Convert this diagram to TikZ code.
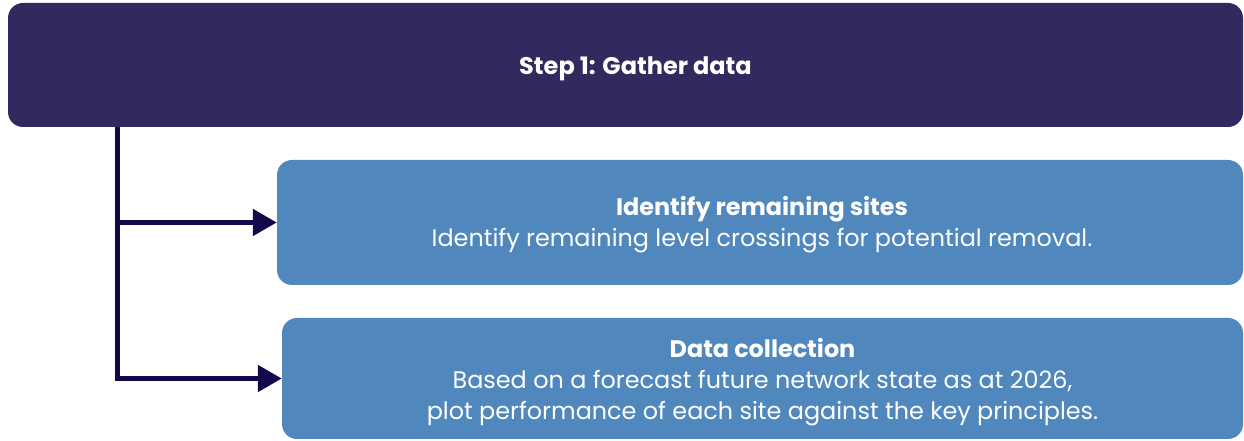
\documentclass[tikz,border=0pt]{standalone}
\usepackage{fontspec}
\setmainfont{Poppins}
\usetikzlibrary{arrows.meta}

\definecolor{navy}{HTML}{322A5E}
\definecolor{midblue}{HTML}{5088BE}
\definecolor{ink}{HTML}{12094A}

\begin{document}
\begin{tikzpicture}[x=1pt,y=1pt]
        \tikzstyle{header} = [rectangle, rounded corners=15pt, minimum width=1235pt, minimum height=124pt, fill=navy]
        \tikzstyle{task} = [rectangle, rounded corners=15pt, fill=midblue]
        \tikzstyle{label} = [align=center, text=white, font=\fontsize{23.9}{31}\selectfont]
        \tikzstyle{arrow} = [draw=ink, line width=5pt, -{Triangle[length=24pt,width=26pt]}]

        \useasboundingbox (0,0) rectangle (1244,441);

        \node (gather) [header] at (625.5,376) {};
        \node (sites) [task, minimum width=966pt, minimum height=125pt] at (760,218.5) {};
        \node (collect) [task, minimum width=961pt, minimum height=121pt] at (762.5,62.5) {};

        \node (gatherText) [label, font=\fontsize{24}{31}\selectfont\bfseries, xshift=10pt, yshift=-4pt] at (gather) {Step 1: Gather data};
        \node (sitesText) [label, xshift=2pt, yshift=-2.5pt] at (sites) {\textbf{Identify remaining sites}\\Identify remaining level crossings for potential removal.};
        \node (collectText) [label, yshift=-3.5pt] at (collect) {\textbf{Data collection}\\Based on a forecast future network state as at 2026,\\plot performance of each site against the key principles.};

        \coordinate (trunk) at (117,0);
        \draw [arrow] (gather.south -| trunk) |- (sites.west);
        \draw [arrow] (gather.south -| trunk) |- (collect.west);
    \end{tikzpicture}
\end{document}
